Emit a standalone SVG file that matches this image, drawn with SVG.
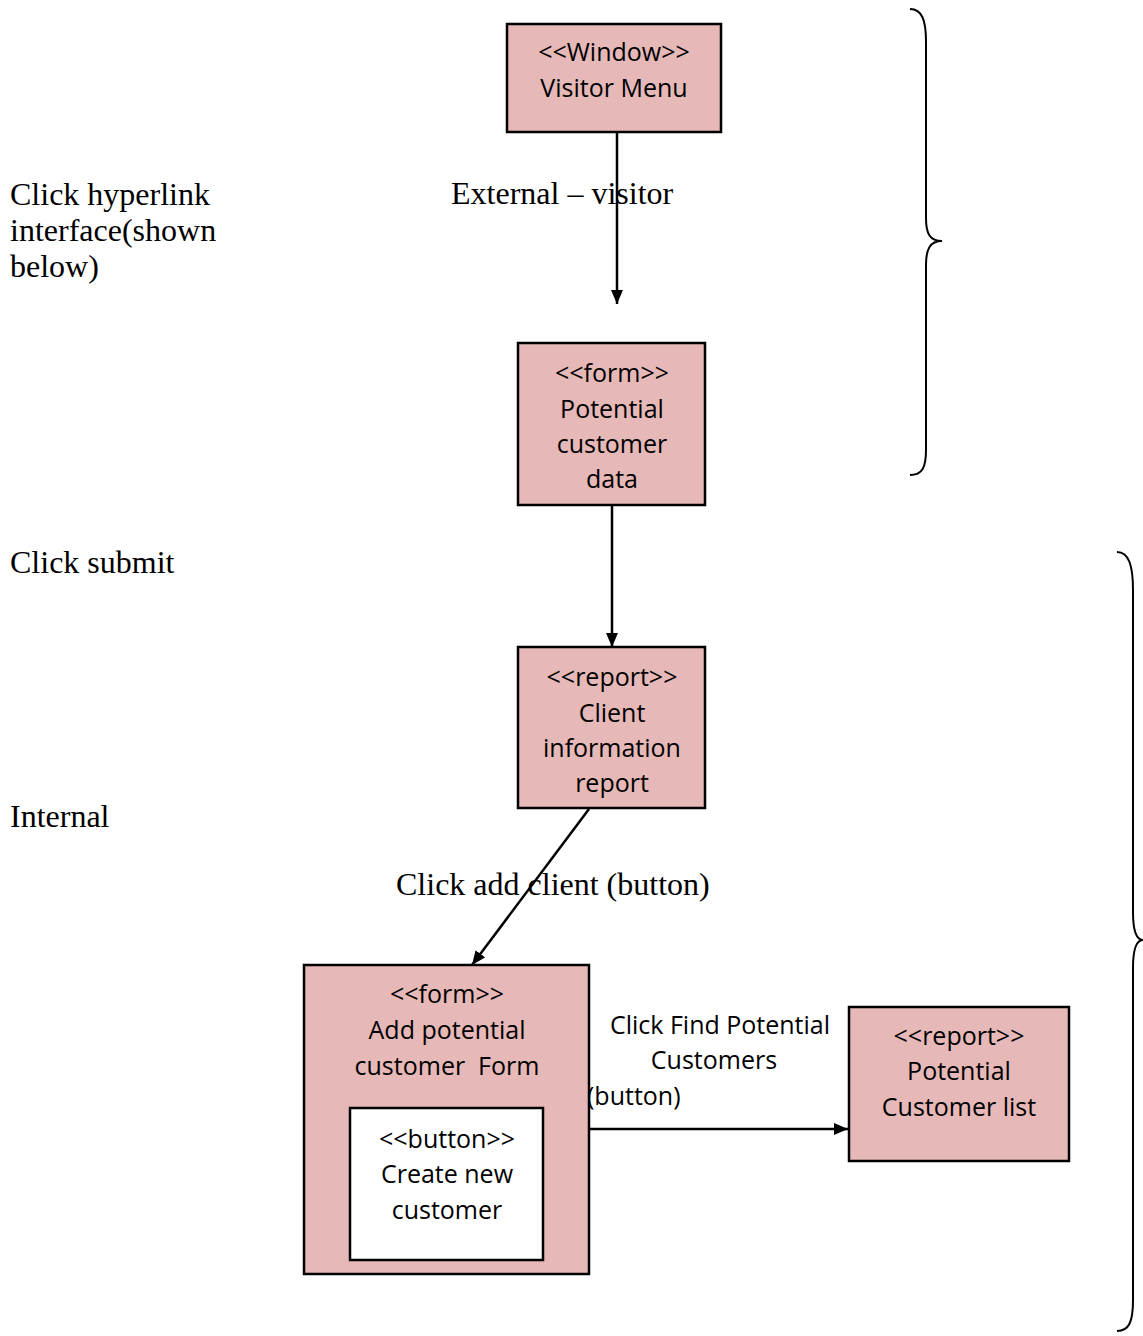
<svg xmlns="http://www.w3.org/2000/svg" width="1143" height="1336" viewBox="0 0 1143 1336">
  <style>
    .box { fill: #e6b8b7; stroke: #000; stroke-width: 2.5; }
    .inner { fill: #fff; stroke: #000; stroke-width: 2.5; }
    .lbl { font-family: "Open Sans", "Noto Sans", sans-serif; font-size: 25px; fill: #000; text-anchor: middle; }
    .note { font-family: "Liberation Serif", "Times New Roman", serif; font-size: 32px; fill: #000; }
    .edge { stroke: #000; stroke-width: 2.5; fill: none; marker-end: url(#arrow); }
    .brace { stroke: #000; stroke-width: 2; fill: none; }
  </style>
  <defs>
    <marker id="arrow" viewBox="0 0 14 12" refX="14" refY="6" markerWidth="14" markerHeight="12" markerUnits="userSpaceOnUse" orient="auto">
      <path d="M0,0 L14,6 L0,12 z" fill="#000"/>
    </marker>
  </defs>
  <rect width="1143" height="1336" fill="#fff"/>

  <!-- side notes -->
  <g id="notes">
    <text class="note" x="10" y="205">Click hyperlink</text>
    <text class="note" x="10" y="241">interface(shown</text>
    <text class="note" x="10" y="277">below)</text>
    <text class="note" x="10" y="573">Click submit</text>
    <text class="note" x="10" y="827">Internal</text>
  </g>

  <!-- braces -->
  <g id="braces">
    <path class="brace" d="M910,9 C922,9 926,20 926,42 L926,218 C926,234 930,241 942,241 C930,241 926,249 926,265 L926,450 C926,468 922,475 910,475"/>
    <path class="brace" d="M1117,552 C1129,552 1133,566 1133,590 L1133,912 C1133,930 1136,940 1143,940 C1136,940 1133,950 1133,968 L1133,1300 C1133,1322 1129,1331 1117,1331"/>
  </g>

  <!-- connectors -->
  <g id="connectors">
    <line class="edge" x1="617" y1="133" x2="617" y2="304"/>
    <line class="edge" x1="612" y1="505" x2="612" y2="647"/>
    <line class="edge" x1="589" y1="809" x2="472" y2="965"/>
    <line class="edge" x1="589" y1="1129" x2="848" y2="1129"/>
    <text class="note" x="451" y="204">External – visitor</text>
    <text class="note" x="396" y="895">Click add client (button)</text>
    <text class="lbl" x="720" y="1034">Click Find Potential</text>
    <text class="lbl" x="714" y="1069">Customers</text>
    <text class="lbl" x="587" y="1105" style="text-anchor:start">(button)</text>
  </g>

  <g id="visitor-menu">
    <rect class="box" x="507" y="24" width="214" height="108"/>
    <text class="lbl" x="614" y="61">&lt;&lt;Window&gt;&gt;</text>
    <text class="lbl" x="614" y="97">Visitor Menu</text>
  </g>

  <g id="potential-customer-data">
    <rect class="box" x="518" y="343" width="187" height="162"/>
    <text class="lbl" x="612" y="382">&lt;&lt;form&gt;&gt;</text>
    <text class="lbl" x="612" y="418">Potential</text>
    <text class="lbl" x="612" y="453">customer</text>
    <text class="lbl" x="612" y="488">data</text>
  </g>

  <g id="client-information-report">
    <rect class="box" x="518" y="647" width="187" height="161"/>
    <text class="lbl" x="612" y="686">&lt;&lt;report&gt;&gt;</text>
    <text class="lbl" x="612" y="722">Client</text>
    <text class="lbl" x="612" y="757">information</text>
    <text class="lbl" x="612" y="792">report</text>
  </g>

  <g id="add-potential-customer-form">
    <rect class="box" x="304" y="965" width="285" height="309"/>
    <text class="lbl" x="447" y="1003">&lt;&lt;form&gt;&gt;</text>
    <text class="lbl" x="447" y="1039">Add potential</text>
    <text class="lbl" x="447" y="1075" xml:space="preserve">customer  Form</text>
    <g id="create-new-customer">
      <rect class="inner" x="350" y="1108" width="193" height="152"/>
      <text class="lbl" x="447" y="1148">&lt;&lt;button&gt;&gt;</text>
      <text class="lbl" x="447" y="1183">Create new</text>
      <text class="lbl" x="447" y="1219">customer</text>
    </g>
  </g>

  <g id="potential-customer-list">
    <rect class="box" x="849" y="1007" width="220" height="154"/>
    <text class="lbl" x="959" y="1045">&lt;&lt;report&gt;&gt;</text>
    <text class="lbl" x="959" y="1080">Potential</text>
    <text class="lbl" x="959" y="1116">Customer list</text>
  </g>
</svg>
